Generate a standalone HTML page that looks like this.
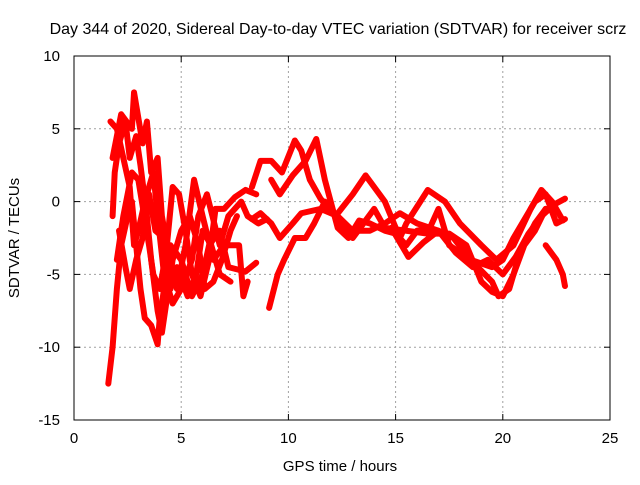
<!DOCTYPE html>
<html><head><meta charset="utf-8"><style>
body{margin:0;background:#fff}
svg text{font-family:"Liberation Sans",sans-serif;font-size:15px;fill:#000}
</style></head><body>
<svg width="640" height="480" viewBox="0 0 640 480">
<rect width="640" height="480" fill="#fff"/>
<g id="grid"></g>
<g id="series" fill="none" stroke="#ff0000" stroke-width="6" stroke-linejoin="round" stroke-linecap="round"></g>
<rect x="74" y="56" width="536" height="364" fill="none" stroke="#000" stroke-width="1"/>
<g id="ticks"></g>
<text x="338" y="34" text-anchor="middle" style="font-size:16px">Day 344 of 2020, Sidereal Day-to-day VTEC variation (SDTVAR) for receiver scrz</text>
<text x="340" y="471" text-anchor="middle">GPS time / hours</text>
<text transform="translate(19,238) rotate(-90)" text-anchor="middle">SDTVAR / TECUs</text>
</svg>
<script>
const xTicks=[0,5,10,15,20,25];
const yTicks=[-15,-10,-5,0,5,10];
const trackA=[[8.3,1.0],[8.7,2.8],[9.2,2.8],[9.7,2.0],[10.3,4.2],[10.6,3.5],[11.0,1.5],[11.5,0.2],[12.2,-1.0],[13,0.5],[13.6,1.8],[14.5,0],[15.2,-2.5],[15.5,-1.5],[16.5,0.8],[17.3,0],[18,-1.5],[19,-3],[19.7,-4],[20.5,-3],[21.3,-0.5],[21.8,0.8],[22.3,0],[22.8,-1.3]];
const trackB=[[9.2,1.5],[9.6,0.5],[10.2,1.8],[10.8,2.8],[11.3,4.3],[11.7,1.5],[12.3,-1.8],[12.8,-2.5],[13.3,-1.3],[13.8,-1.5],[14.5,-2],[15,-2.2],[15.5,-3],[16,-2],[16.6,-1.8],[17,-0.5],[17.5,-3],[18.5,-4],[19.5,-4.5],[20,-4],[20.5,-2.5],[21.5,0],[22,0.5],[22.5,-1.5],[22.9,-1.2]];
const trackC=[[8.3,-1.2],[8.7,-0.8],[9.2,-1.5],[9.6,-2.5],[10.2,-1.5],[10.6,-0.8],[11.5,-0.5],[12.3,-1],[13,-2],[13.8,-2],[14.5,-1.5],[15.2,-0.8],[16,-1.5],[17,-2],[17.7,-2.5],[18.5,-4],[19.5,-5.5],[19.8,-6.5],[20.3,-6],[20.8,-3.5],[21.5,-1.5],[22,-0.5]];
const trackD=[[9.1,-7.3],[9.5,-5],[9.8,-4],[10.3,-2.5],[10.8,-2.5],[11.2,-1.5],[11.7,0],[12.2,-1],[13.0,-2.5],[13.5,-1.5],[14,-0.5],[14.5,-1.8],[15.5,-2],[16.5,-2.2],[17.5,-2.2],[18.3,-3],[19,-5.5],[19.5,-6.2],[20,-6.5],[20.5,-5],[21,-3],[21.5,-2],[22,-0.5]];
const trackE=[[22,-3],[22.5,-4],[22.8,-5],[22.9,-5.8]];
const trackF=[[14.8,-1.8],[15.6,-3.8],[16.3,-2.8],[17.0,-2.0],[17.8,-3.5],[18.6,-4.5],[19.3,-4.0],[20.0,-5.0],[20.6,-3.8],[21.2,-2.2],[21.8,-1.0],[22.4,-0.2],[22.9,0.2]];
const trackL1=[[1.6,-12.5],[1.8,-10],[2.0,-6],[2.2,-3],[2.5,-1],[2.7,0],[2.9,-3],[3.1,-6],[3.3,-8],[3.6,-8.5],[3.9,-9.8],[4.0,-8],[4.3,-5],[4.5,-3],[5.0,-4],[5.5,-6.5],[6.0,-5],[6.3,-3],[6.8,-2],[7.2,-4.5],[8.0,-4.8],[8.5,-4.2]];
const trackL2=[[1.7,5.5],[2.0,5],[2.3,3],[2.6,1],[2.8,-3],[3.0,-2],[3.3,0],[3.7,2],[3.9,-1],[4.2,-5],[4.6,-7],[5.0,-6],[5.5,-4],[5.8,-1],[6.2,0.5],[6.8,-3],[7.2,-1],[7.8,0],[8.1,-1],[8.6,-1.5],[9.0,-1.2]];
const trackL3=[[1.8,3],[2.2,6],[2.7,5],[2.8,7.5],[3.2,4],[3.4,5.5],[3.6,2],[3.9,3],[4.1,-1],[4.4,-3.5],[4.8,-6],[5.2,-3],[5.6,1.5],[6.0,-1],[6.5,-4],[7.0,-3],[7.7,-3],[7.9,-6.5],[8.1,-5.5]];
const trackL4=[[2.0,-4],[2.3,-1],[2.7,2],[3.0,1.5],[3.5,-3],[3.7,-5],[4.0,-6],[4.3,-3.5],[4.6,1],[4.9,0.5],[5.2,-2],[5.5,-5],[5.9,-6.5],[6.3,-4],[6.6,-0.5],[7.0,-0.5],[7.5,0.3],[8.0,0.8],[8.5,0.5]];
const trackL5=[[1.8,-1],[1.9,2],[2.1,4],[2.4,5.5],[2.6,3],[2.9,4.5],[3.1,2.5],[3.4,-1],[3.6,-4],[3.9,-7.5],[4.1,-9],[4.3,-7],[4.6,-4],[5.0,-2],[5.4,-1],[5.8,-3],[6.1,-6],[6.5,-5.5],[6.9,-4],[7.3,-2],[7.6,-1]];
const trackL6=[[2.1,-2],[2.4,-4.5],[2.6,-6],[2.9,-4],[3.2,-2.5],[3.5,0.5],[3.8,-2],[4.2,-2.5],[4.5,-6],[4.8,-4.5],[5.3,-6.5],[5.7,-5],[6.0,-2],[6.4,-3],[6.8,-5],[7.3,-5.5]];
const tracks=[trackA,trackB,trackC,trackD,trackE,trackF,trackL1,trackL2,trackL3,trackL4,trackL5,trackL6];
const NS='http://www.w3.org/2000/svg';
const X0=74,X1=610,Y0=420,Y1=56;
function sx(v){return X0+(v-0)/(25-0)*(X1-X0);}
function sy(v){return Y0-(v+15)/(10+15)*(Y0-Y1);}
function mk(t,a){const e=document.createElementNS(NS,t);for(const k in a)e.setAttribute(k,a[k]);return e;}
const grid=document.getElementById('grid'),ticks=document.getElementById('ticks'),ser=document.getElementById('series');
xTicks.forEach(v=>{const x=sx(v);
 if(v>0&&v<25){const g=mk('line',{x1:x,x2:x,y1:Y1,y2:Y0,stroke:'#a0a0a0','stroke-dasharray':'2,3'});
 
 grid.appendChild(g);}
 const t1=mk('line',{x1:x,x2:x,y1:Y0,y2:Y0-6,stroke:'#000'});ticks.appendChild(t1);
 const t2=mk('line',{x1:x,x2:x,y1:Y1,y2:Y1+6,stroke:'#000'});ticks.appendChild(t2);
 const l=mk('text',{x:x,y:Y0+23,'text-anchor':'middle'});l.textContent=v;
 
 ticks.appendChild(l);});
yTicks.forEach(v=>{const y=sy(v);
 if(v>-15&&v<10){const g=mk('line',{x1:X0,x2:X1,y1:y,y2:y,stroke:'#a0a0a0','stroke-dasharray':'2,3'});
 
 grid.appendChild(g);}
 const t1=mk('line',{x1:X0,x2:X0+6,y1:y,y2:y,stroke:'#000'});ticks.appendChild(t1);
 const t2=mk('line',{x1:X1,x2:X1-6,y1:y,y2:y,stroke:'#000'});ticks.appendChild(t2);
 const l=mk('text',{x:X0-14,y:y+5,'text-anchor':'end'});l.textContent=v;
 
 ticks.appendChild(l);});
tracks.forEach(tr=>{const p=mk('polyline',{points:tr.map(d=>sx(d[0])+','+sy(d[1])).join(' ')});
 
 ser.appendChild(p);});
</script>
</body></html>
